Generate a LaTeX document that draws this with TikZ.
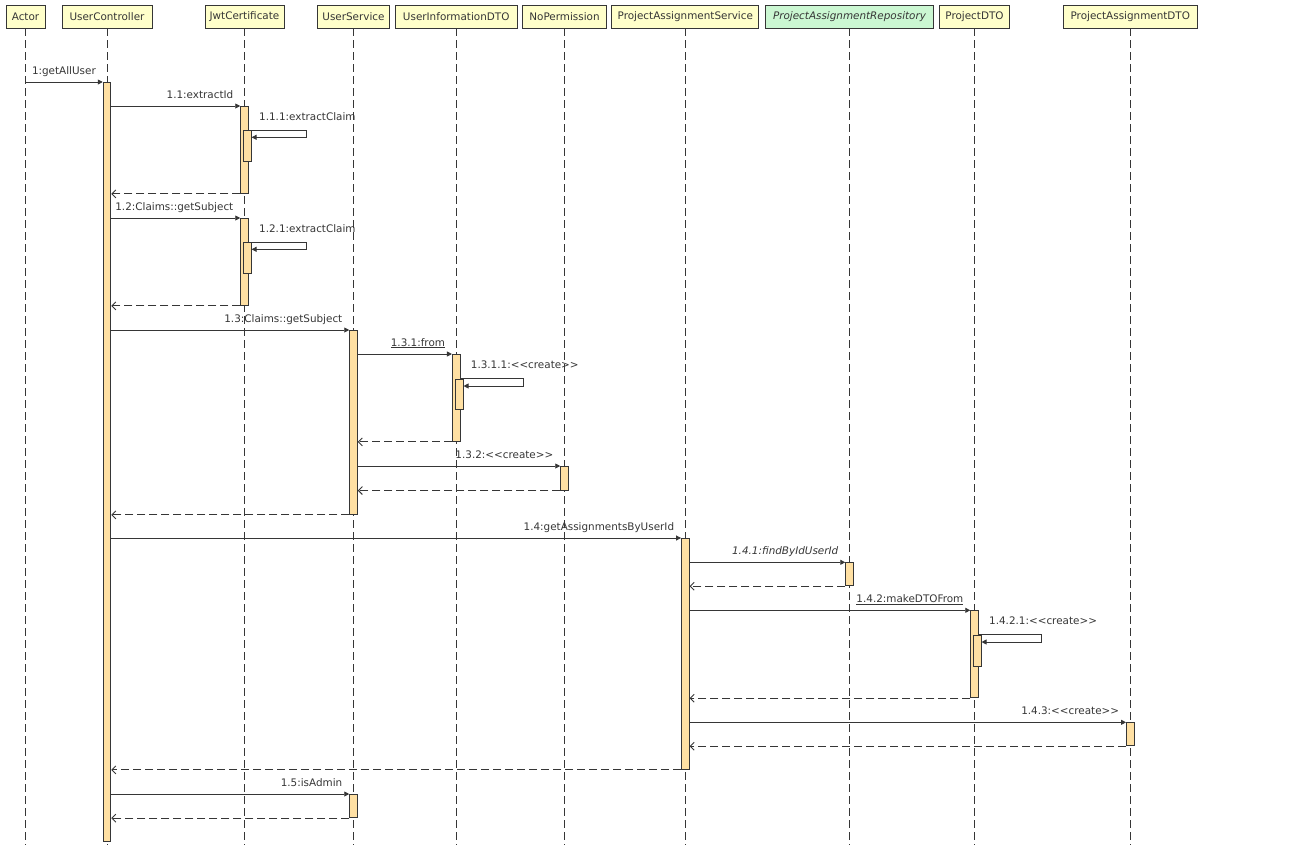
\documentclass[tikz,border=0pt]{standalone}
\usepackage{fontspec}
\setmainfont{DejaVu Sans}
\usetikzlibrary{arrows.meta,calc}
\definecolor{ink}{HTML}{363636}
\definecolor{headfill}{HTML}{FFFFCA}
\definecolor{repofill}{HTML}{CBF7D2}
\definecolor{barfill}{HTML}{FFE0A3}
\newcommand{\stereo}[1]{<{}<#1>{}>}
\tikzset{
  txt/.style={font=\fontsize{10.4}{12}\selectfont, text=ink},
  head/.style={txt, draw=ink, fill=headfill, line width=0.9pt, minimum height=23pt, inner sep=0pt},
  life/.style={draw=ink, line width=0.9pt, dash pattern=on 8pt off 4pt},
  actbar/.style={draw=ink, fill=barfill, line width=0.9pt, minimum width=7.6pt, inner sep=0pt, anchor=north},
  msg/.style={draw=ink, line width=0.9pt, -{Triangle[length=5pt,width=5pt]}},
  ret/.style={draw=ink, line width=0.9pt, dash pattern=on 8pt off 4pt, -{Straight Barb[length=4pt,width=8pt]}},
  lbl/.style={txt, inner sep=0pt, anchor=base east, xshift=-6.5pt, yshift=8pt},
  selflbl/.style={txt, inner sep=0pt, anchor=base west, xshift=10pt, yshift=10pt},
}
\begin{document}
\begin{tikzpicture}[x=1pt, y=-1pt]
\useasboundingbox (0,0) rectangle (1298,847);

% participants
\node[head, minimum width=39pt]  (actor) at (25.5,16.5)   {Actor};
\node[head, minimum width=90pt]  (uc)    at (107,16.5)    {UserController};
\node[head, minimum width=79pt]  (jwt)   at (244.5,16.5)  {JwtCertificate};
\node[head, minimum width=72pt]  (us)    at (353.5,16.5)  {UserService};
\node[head, minimum width=122pt] (uid)   at (456.2,16.5)  {UserInformationDTO};
\node[head, minimum width=84pt]  (np)    at (564.5,16.5)  {NoPermission};
\node[head, minimum width=147pt] (pas)   at (685.3,16.5)  {ProjectAssignmentService};
\node[head, minimum width=168pt, fill=repofill, font=\fontsize{10.4}{12}\selectfont\itshape] (repo) at (849.5,16.5) {ProjectAssignmentRepository};
\node[head, minimum width=70pt]  (pdto)  at (974.5,16.5)  {ProjectDTO};
\node[head, minimum width=134pt] (padto) at (1130.3,16.5) {ProjectAssignmentDTO};

% lifelines
\coordinate (bottom) at (0,845);
\foreach \p in {actor,uc,jwt,us,uid,np,pas,repo,pdto,padto}
  \draw[life] (\p.south) -- (\p.south |- bottom);

% activation bars
\node[actbar, minimum height=759pt] (uc1)   at (107,82) {};
\node[actbar, minimum height=87pt]  (jwt1)  at (244.5,106) {};
\node[actbar, minimum height=31pt]  (jwt1n) at (247.3,130) {};
\node[actbar, minimum height=87pt]  (jwt2)  at (244.5,218) {};
\node[actbar, minimum height=31pt]  (jwt2n) at (247.3,242) {};
\node[actbar, minimum height=184pt] (us1)   at (353.5,330) {};
\node[actbar, minimum height=87pt]  (uid1)  at (456.2,354) {};
\node[actbar, minimum height=30.6pt] (uid1n) at (459.3,378.7) {};
\node[actbar, minimum height=23.6pt] (np1)  at (564.5,466) {};
\node[actbar, minimum height=231pt] (pas1)  at (685.3,538) {};
\node[actbar, minimum height=23pt]  (repo1) at (849.5,562.3) {};
\node[actbar, minimum height=87pt]  (pdto1) at (974.5,610.3) {};
\node[actbar, minimum height=31pt]  (pdto1n) at (977.3,634.7) {};
\node[actbar, minimum height=23pt]  (padto1) at (1130.3,722.3) {};
\node[actbar, minimum height=23.3pt] (us2)  at (353.5,794) {};

% messages
\draw[msg] (actor.south |- uc1.north) -- (uc1.north west) node[lbl] {1:getAllUser};

\draw[msg] (uc1.east |- jwt1.north) -- (jwt1.north west) node[lbl] {1.1:extractId};
\draw[msg] (jwt1.east |- jwt1n.north) -- node[selflbl, pos=0] {1.1.1:extractClaim} ++(58,0) |- ($(jwt1n.north east)+(0,7.3)$);
\draw[ret] (jwt1.south west) -- (uc1.east |- jwt1.south);

\draw[msg] (uc1.east |- jwt2.north) -- (jwt2.north west) node[lbl] {1.2:Claims::getSubject};
\draw[msg] (jwt2.east |- jwt2n.north) -- node[selflbl, pos=0] {1.2.1:extractClaim} ++(58,0) |- ($(jwt2n.north east)+(0,7.3)$);
\draw[ret] (jwt2.south west) -- (uc1.east |- jwt2.south);

\draw[msg] (uc1.east |- us1.north) -- (us1.north west) node[lbl] {1.3:Claims::getSubject};
\draw[msg] (us1.east |- uid1.north) -- (uid1.north west) node[lbl] {\underline{1.3.1:from}};
\draw[msg] (uid1.east |- uid1n.north) -- node[selflbl, pos=0] {1.3.1.1:\stereo{create}} ++(63.3,0) |- ($(uid1n.north east)+(0,7.3)$);
\draw[ret] (uid1.south west) -- (us1.east |- uid1.south);
\draw[msg] (us1.east |- np1.north) -- (np1.north west) node[lbl] {1.3.2:\stereo{create}};
\draw[ret] (np1.south west) -- (us1.east |- np1.south);
\draw[ret] (us1.south west) -- (uc1.east |- us1.south);

\draw[msg] (uc1.east |- pas1.north) -- (pas1.north west) node[lbl] {1.4:getAssignmentsByUserId};
\draw[msg] (pas1.east |- repo1.north) -- (repo1.north west) node[lbl, font=\fontsize{10.4}{12}\selectfont\itshape] {1.4.1:findByIdUserId};
\draw[ret] (repo1.south west) -- (pas1.east |- repo1.south);
\draw[msg] (pas1.east |- pdto1.north) -- (pdto1.north west) node[lbl] {\underline{1.4.2:makeDTOFrom}};
\draw[msg] (pdto1.east |- pdto1n.north) -- node[selflbl, pos=0] {1.4.2.1:\stereo{create}} ++(63,0) |- ($(pdto1n.north east)+(0,7.3)$);
\draw[ret] (pdto1.south west) -- (pas1.east |- pdto1.south);
\draw[msg] (pas1.east |- padto1.north) -- (padto1.north west) node[lbl] {1.4.3:\stereo{create}};
\draw[ret] (padto1.south west) -- (pas1.east |- padto1.south);
\draw[ret] (pas1.south west) -- (uc1.east |- pas1.south);

\draw[msg] (uc1.east |- us2.north) -- (us2.north west) node[lbl] {1.5:isAdmin};
\draw[ret] (us2.south west) -- (uc1.east |- us2.south);
\end{tikzpicture}
\end{document}
